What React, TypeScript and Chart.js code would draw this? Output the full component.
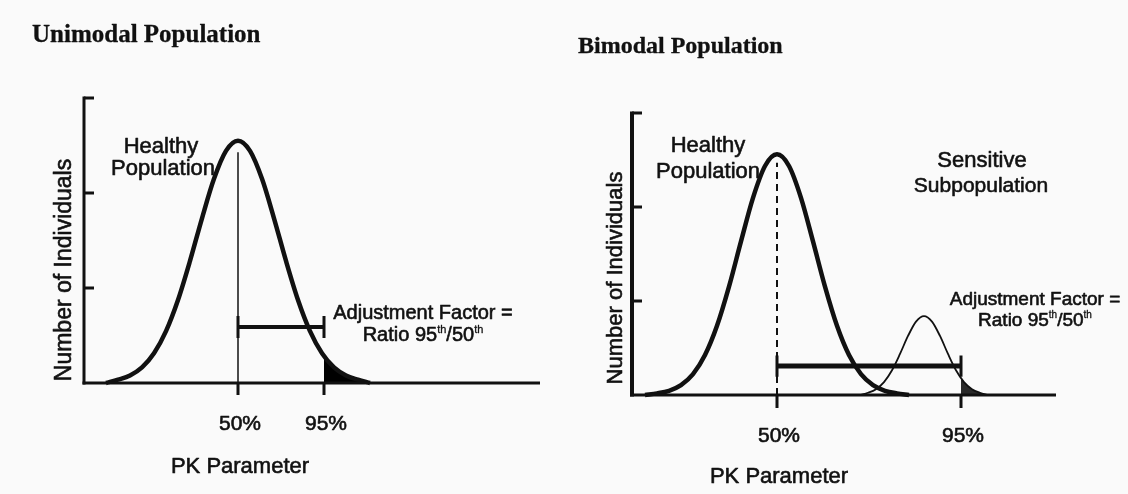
import { useEffect, useRef } from "react";
import { Chart, registerables } from "chart.js";

Chart.register(...registerables);

// ---------------- shared labels / scale values ----------------
const yMax = 30;
const yTickValues = [10, 20];
const xTickLabels = ["50%", "95%"];
const xAxisTitle = "PK Parameter";
const yAxisTitle = "Number of Individuals";
const healthyLines = ["Healthy", "Population"];
const sensitiveLines = ["Sensitive", "Subpopulation"];
const factorTitle = "Adjustment Factor =";
const factorRatio = ["Ratio 95", "th", "/50", "th"];

// ---------------- unimodal panel ----------------
const uniTitle = "Unimodal Population";
const uniXMax = 114;
const uniCurveX = [5.5, 8.5, 11.5, 14.5, 17.5, 20.5, 23.5, 26.5, 29.5, 32.5, 35.5, 38.5, 41.5, 44.5, 47.5, 50.5, 53.5, 56.5, 59.5, 62.5, 65.5, 68.5, 71.5];
const uniCurveY = [0, 0.35, 0.79, 1.64, 3.13, 5.46, 8.74, 12.85, 17.34, 21.49, 24.43, 25.5, 24.43, 21.49, 17.34, 12.85, 8.74, 5.46, 3.13, 1.64, 0.79, 0.35, 0];
const uniTailX = [60, 62.5, 65.5, 68.5, 71.5];
const uniTailY = [2.83, 1.64, 0.79, 0.35, 0];
const uniMedian = 38.5;
const uniP95 = 60;
const uniMedianTop = 24.3;
const uniBarLevel = 5.9;
const uniCapLow = 4.75;
const uniCapHigh = 7.05;

// ---------------- bimodal panel ----------------
const biTitle = "Bimodal Population";
const biXMax = 106;
const biCurveX = [3.25, 6.25, 9.25, 12.25, 15.25, 18.25, 21.25, 24.25, 27.25, 30.25, 33.25, 36.25, 39.25, 42.25, 45.25, 48.25, 51.25, 54.25, 57.25, 60.25, 63.25, 66.25, 69.25];
const biCurveY = [0, 0.17, 0.45, 1.05, 2.22, 4.25, 7.36, 11.53, 16.34, 20.97, 24.36, 25.6, 24.36, 20.97, 16.34, 11.53, 7.36, 4.25, 2.22, 1.05, 0.45, 0.17, 0];
const biSubX = [57, 59, 61, 63, 65, 67, 69, 71, 73, 75, 77, 79, 81, 83, 85, 87, 89];
const biSubY = [0, 0.24, 0.62, 1.37, 2.63, 4.37, 6.28, 7.81, 8.4, 7.81, 6.28, 4.37, 2.63, 1.37, 0.62, 0.24, 0];
const biTailX = [82.25, 83, 85, 87, 89];
const biTailY = [1.78, 1.37, 0.62, 0.24, 0];
const biMedian = 36.25;
const biP95 = 82.25;
const biMedianTop = 24.7;
const biBarLevel = 3.09;
const biCapLow = 1.95;
const biCapHigh = 4.2;

// ---------------- drawing helpers ----------------
const INK = "#111111";
const SANS = '"Liberation Sans", Arial, sans-serif';
const SERIF = '"Liberation Serif", "Times New Roman", serif';
const PANEL_W = 564;
const PANEL_H = 494;
const HEAVY = 0.6;

type Pt = { x: number; y: number | null };
const pts = (xs: number[], ys: (number | null)[]): Pt[] => xs.map((x, i) => ({ x, y: ys[i] }));

function paint(ctx: CanvasRenderingContext2D, s: string, x: number, y: number, heavy: number) {
  ctx.fillText(s, x, y);
  if (heavy > 0) {
    ctx.lineWidth = heavy;
    ctx.strokeStyle = INK;
    ctx.lineJoin = "round";
    ctx.strokeText(s, x, y);
  }
}

function txt(ctx: CanvasRenderingContext2D, s: string, x: number, y: number, font: string, align: CanvasTextAlign = "center", heavy = HEAVY) {
  ctx.save();
  ctx.font = font;
  ctx.fillStyle = INK;
  ctx.textAlign = align;
  ctx.textBaseline = "alphabetic";
  paint(ctx, s, x, y, heavy);
  ctx.restore();
}

function vtxt(ctx: CanvasRenderingContext2D, s: string, x: number, cy: number, font: string) {
  ctx.save();
  ctx.font = font;
  ctx.fillStyle = INK;
  ctx.textAlign = "center";
  ctx.textBaseline = "alphabetic";
  ctx.translate(x, cy);
  ctx.rotate(-Math.PI / 2);
  paint(ctx, s, 0, 0, HEAVY);
  ctx.restore();
}

function ratioTxt(ctx: CanvasRenderingContext2D, cx: number, y: number, size: number) {
  const sup = Math.round(size * 0.55);
  const parts: [string, number, number][] = [
    [factorRatio[0], size, 0],
    [factorRatio[1], sup, size * 0.42],
    [factorRatio[2], size, 0],
    [factorRatio[3], sup, size * 0.42],
  ];
  ctx.save();
  ctx.fillStyle = INK;
  ctx.textAlign = "left";
  ctx.textBaseline = "alphabetic";
  let w = 0;
  for (const p of parts) {
    ctx.font = `${p[1]}px ${SANS}`;
    w += ctx.measureText(p[0]).width;
  }
  let x = cx - w / 2;
  for (const p of parts) {
    ctx.font = `${p[1]}px ${SANS}`;
    paint(ctx, p[0], x, y - p[2], p[1] < size ? 0.3 : HEAVY);
    x += ctx.measureText(p[0]).width;
  }
  ctx.restore();
}

type PanelSpec = {
  key: string;
  xMax: number;
  median: number;
  p95: number;
  padding: { left: number; right: number; top: number; bottom: number };
  yAxisWidth: number;
  xTickLen: number;
  datasets: any[];
  drawText: (chart: any) => void;
};

function axesPlugin(spec: PanelSpec) {
  return {
    id: "panel-" + spec.key,
    beforeDatasetsDraw(chart: any) {
      spec.drawText(chart);
    },
    afterDatasetsDraw(chart: any) {
      const { ctx, chartArea: a, scales } = chart;
      const x = scales.x;
      const y = scales.y;
      const by = y.getPixelForValue(0);
      ctx.save();
      ctx.strokeStyle = INK;
      ctx.lineCap = "butt";
      // y axis line
      ctx.lineWidth = spec.yAxisWidth;
      ctx.beginPath();
      ctx.moveTo(a.left, by + 1.5);
      ctx.lineTo(a.left, y.getPixelForValue(yMax) - 1.5);
      ctx.stroke();
      // inward ticks (including top cap)
      ctx.lineWidth = 3;
      for (const v of [...yTickValues, yMax]) {
        const py = y.getPixelForValue(v);
        ctx.beginPath();
        ctx.moveTo(a.left, py);
        ctx.lineTo(a.left + 10, py);
        ctx.stroke();
      }
      // x axis line
      ctx.lineWidth = 3;
      ctx.beginPath();
      ctx.moveTo(a.left - spec.yAxisWidth / 2, by);
      ctx.lineTo(x.getPixelForValue(spec.xMax), by);
      ctx.stroke();
      // x ticks (down)
      for (const v of [spec.median, spec.p95]) {
        const px = x.getPixelForValue(v);
        ctx.beginPath();
        ctx.moveTo(px, by);
        ctx.lineTo(px, by + spec.xTickLen);
        ctx.stroke();
      }
      ctx.restore();
    },
  };
}

function build(canvas: HTMLCanvasElement, spec: PanelSpec) {
  return new Chart(canvas, {
    type: "line",
    data: { datasets: spec.datasets },
    options: {
      animation: false,
      responsive: false,
      maintainAspectRatio: false,
      events: [],
      layout: { padding: spec.padding },
      plugins: {
        legend: { display: false },
        tooltip: { enabled: false },
        title: { display: false },
      },
      elements: { point: { radius: 0 }, line: { borderCapStyle: "butt" } },
      scales: {
        x: { type: "linear", min: 0, max: spec.xMax, display: false },
        y: { type: "linear", min: 0, max: yMax, display: false },
      },
    } as any,
    plugins: [axesPlugin(spec)],
  });
}

const curve = (data: Pt[], width: number, extra: any = {}) => ({
  data,
  borderColor: INK,
  borderWidth: width,
  fill: false,
  pointRadius: 0,
  cubicInterpolationMode: "monotone",
  clip: false,
  ...extra,
});

const straight = (data: Pt[], width: number, extra: any = {}) => ({
  data,
  borderColor: INK,
  borderWidth: width,
  fill: false,
  pointRadius: 0,
  tension: 0,
  spanGaps: false,
  clip: false,
  ...extra,
});

const uniSpec: PanelSpec = {
  key: "uni",
  xMax: uniXMax,
  median: uniMedian,
  p95: uniP95,
  padding: { left: 84, right: PANEL_W - 540, top: 98, bottom: PANEL_H - 383 },
  yAxisWidth: 3,
  xTickLen: 12,
  datasets: [
    straight(pts([uniMedian, uniP95], [uniBarLevel, uniBarLevel]), 4),
    straight(pts([uniMedian, uniMedian, uniMedian, uniP95, uniP95], [uniCapLow, uniCapHigh, null, uniCapLow, uniCapHigh]), 3),
    curve(pts(uniCurveX, uniCurveY), 4.5),
    straight(pts([uniMedian, uniMedian], [0, uniMedianTop]), 1.5),
    curve(pts(uniTailX, uniTailY), 0, { fill: "origin", backgroundColor: "#000000" }),
  ],
  drawText(chart: any) {
    const { ctx, chartArea: a, scales } = chart;
    const x = scales.x;
    const by = a.bottom;
    txt(ctx, uniTitle, 32, 42, `bold 25px ${SERIF}`, "left", 0.3);
    txt(ctx, healthyLines[0], 161, 153, `22px ${SANS}`);
    txt(ctx, healthyLines[1], 163, 175, `22px ${SANS}`);
    txt(ctx, factorTitle, 423, 319, `20px ${SANS}`);
    ratioTxt(ctx, 423, 341, 20);
    const p50 = x.getPixelForValue(uniMedian);
    const p95 = x.getPixelForValue(uniP95);
    txt(ctx, xTickLabels[0], p50 + 2, by + 47, `21px ${SANS}`);
    txt(ctx, xTickLabels[1], p95 + 2, by + 47, `21px ${SANS}`);
    txt(ctx, xAxisTitle, p50 + 2, by + 90, `22px ${SANS}`);
    vtxt(ctx, yAxisTitle, a.left - 13, 270, `23px ${SANS}`);
  },
};

const biSpec: PanelSpec = {
  key: "bi",
  xMax: biXMax,
  median: biMedian,
  p95: biP95,
  padding: { left: 68, right: PANEL_W - 492, top: 113, bottom: PANEL_H - 395 },
  yAxisWidth: 4,
  xTickLen: 13,
  datasets: [
    straight(pts([biMedian, biP95], [biBarLevel, biBarLevel]), 5),
    straight(pts([biMedian, biMedian, biMedian, biP95, biP95], [biCapLow, biCapHigh, null, biCapLow, biCapHigh]), 3),
    curve(pts(biCurveX, biCurveY), 4.5),
    curve(pts(biSubX, biSubY), 1.8),
    straight(pts([biMedian, biMedian], [0, biMedianTop]), 2, { borderDash: [7, 5] }),
    curve(pts(biTailX, biTailY), 0, { fill: "origin", backgroundColor: "#2a2a2a" }),
  ],
  drawText(chart: any) {
    const { ctx, chartArea: a, scales } = chart;
    const x = scales.x;
    const by = a.bottom;
    txt(ctx, biTitle, 14, 53, `bold 24px ${SERIF}`, "left", 0.3);
    txt(ctx, healthyLines[0], 144, 152, `22px ${SANS}`);
    txt(ctx, healthyLines[1], 144, 178, `22px ${SANS}`);
    txt(ctx, sensitiveLines[0], 418, 167, `22px ${SANS}`);
    txt(ctx, sensitiveLines[1], 417, 192, `21px ${SANS}`);
    txt(ctx, factorTitle, 471, 305, `19px ${SANS}`);
    ratioTxt(ctx, 471, 326, 19);
    const p50 = x.getPixelForValue(biMedian);
    const p95 = x.getPixelForValue(biP95);
    txt(ctx, xTickLabels[0], p50 + 2, by + 47, `21px ${SANS}`);
    txt(ctx, xTickLabels[1], p95 + 2, by + 47, `21px ${SANS}`);
    txt(ctx, xAxisTitle, p50 + 2, by + 88, `22px ${SANS}`);
    vtxt(ctx, yAxisTitle, a.left - 10, 278, `22px ${SANS}`);
  },
};

export default function App() {
  const leftRef = useRef<HTMLCanvasElement>(null);
  const rightRef = useRef<HTMLCanvasElement>(null);

  useEffect(() => {
    const charts: Chart[] = [];
    if (leftRef.current) charts.push(build(leftRef.current, uniSpec));
    if (rightRef.current) charts.push(build(rightRef.current, biSpec));
    return () => charts.forEach((c) => c.destroy());
  }, []);

  return (
    <div
      style={{
        position: "fixed",
        left: 0,
        top: 0,
        width: 1128,
        height: 494,
        background: "#fafafa",
        overflow: "hidden",
      }}
    >
      <canvas
        ref={leftRef}
        width={PANEL_W}
        height={PANEL_H}
        style={{ position: "absolute", left: 0, top: 0, width: PANEL_W, height: PANEL_H }}
      />
      <canvas
        ref={rightRef}
        width={PANEL_W}
        height={PANEL_H}
        style={{ position: "absolute", left: PANEL_W, top: 0, width: PANEL_W, height: PANEL_H }}
      />
    </div>
  );
}
